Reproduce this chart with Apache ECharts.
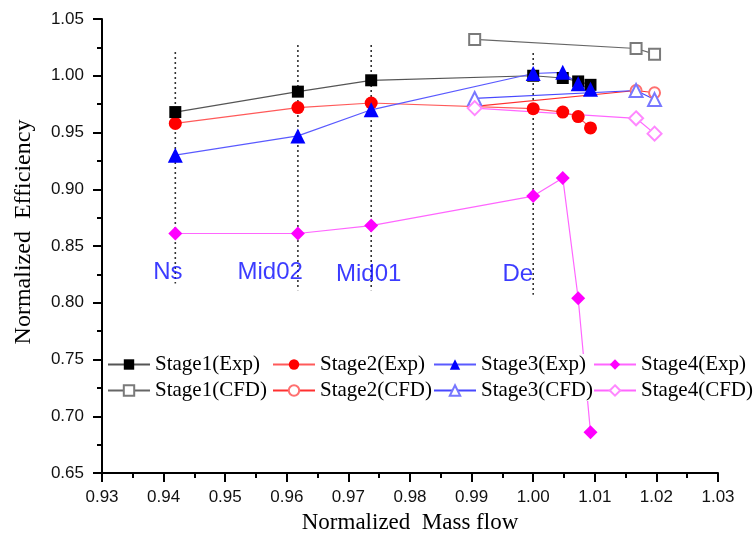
<!DOCTYPE html>
<html>
<head>
<meta charset="utf-8">
<script src="https://cdn.jsdelivr.net/npm/echarts/dist/echarts.min.js"></script>
<style>
  html, body { margin: 0; padding: 0; background: #fff; }
  #chart { width: 755px; height: 547px; }
</style>
</head>
<body>
<div id="chart"></div>
<script>
// Measurement stations (vertical dotted markers) and their tags
const stationNames = ['Ns', 'Mid02', 'Mid01', 'De'];
const stationFlow = [0.9419, 0.9618, 0.9737, 1.0000];
const stationTop = [1.021, 1.027, 1.027, 1.020];
const stationBottom = [0.817, 0.811, 0.811, 0.807];
const tagFlow = [0.9407, 0.9573, 0.9733, 0.9975];
const tagEff = [0.827, 0.827, 0.825, 0.825];

// Experimental results
const expFlow = [0.9419, 0.9618, 0.9737, 1.0000, 1.0048, 1.0073, 1.0093];
const stage1Exp = [0.968, 0.986, 0.996, 1.000, 0.998, 0.995, 0.992];
const stage2Exp = [0.958, 0.972, 0.976, 0.971, 0.968, 0.964, 0.954];
const stage3Exp = [0.930, 0.947, 0.970, 1.002, 1.003, 0.993, 0.988];
const stage4Exp = [0.861, 0.861, 0.868, 0.894, 0.910, 0.804, 0.686];

// CFD results
const cfdFlow = [0.9905, 1.0167, 1.0197];
const stage1Cfd = [1.032, 1.024, 1.019];
const stage2Cfd = [0.973, 0.987, 0.985];
const stage3Cfd = [0.980, 0.987, 0.979];
const stage4Cfd = [0.9715, 0.9625, 0.949];

const seriesNames = ['Stage1(Exp)', 'Stage1(CFD)', 'Stage2(Exp)', 'Stage2(CFD)',
                     'Stage3(Exp)', 'Stage3(CFD)', 'Stage4(Exp)', 'Stage4(CFD)'];

const pair = (xs, ys) => xs.map((x, i) => [x, ys[i]]);

function curve(name, xs, ys, symbol, size, markColor, lineColor, hollow) {
  return {
    name: name,
    type: 'line',
    data: pair(xs, ys),
    symbol: symbol,
    symbolSize: size,
    showAllSymbol: true,
    z: 3,
    lineStyle: { color: lineColor, width: 1.2 },
    itemStyle: hollow
      ? { color: markColor, borderColor: markColor, borderWidth: 1.6 }
      : { color: markColor, borderWidth: 0 },
    emphasis: { disabled: true }
  };
}

const stationSeries = stationFlow.map((x, i) => ({
  type: 'line',
  data: [[x, stationTop[i]], [x, stationBottom[i]]],
  symbol: 'none',
  z: 1,
  silent: true,
  lineStyle: { color: '#333', width: 1.6, type: [2, 3] }
}));

const tagSeries = {
  type: 'scatter',
  data: tagFlow.map((x, i) => ({ value: [x, tagEff[i]], name: stationNames[i] })),
  symbolSize: 0,
  silent: true,
  z: 2,
  label: {
    show: true,
    position: 'inside',
    formatter: p => p.name,
    fontFamily: 'Liberation Sans',
    fontSize: 24,
    color: '#0a0aff'
  }
};

const legendLeft = [107, 272, 433, 593];
const legends = legendLeft.map((left, i) => ({
  orient: 'vertical',
  left: left,
  top: 354,
  itemGap: 5,
  itemWidth: 42,
  itemHeight: 13,
  padding: [0, 2, 0, 0],
  backgroundColor: '#fff',
  selectedMode: false,
  data: [seriesNames[2 * i], seriesNames[2 * i + 1]],
  textStyle: { fontFamily: 'Liberation Serif', fontSize: 21, color: '#000' }
}));

const axisText = { fontFamily: 'Liberation Sans', fontSize: 17, color: '#111' };

const option = {
  animation: false,
  backgroundColor: '#fff',
  grid: { left: 102, right: 37, top: 19, bottom: 74 },
  legend: legends,
  xAxis: {
    type: 'value',
    min: 0.93,
    max: 1.03,
    interval: 0.01,
    name: 'Normalized  Mass flow',
    nameLocation: 'middle',
    nameGap: 38,
    nameTextStyle: { fontFamily: 'Liberation Serif', fontSize: 23, color: '#000' },
    axisLine: { onZero: false, lineStyle: { color: '#000', width: 2 } },
    axisTick: { inside: false, length: 9, lineStyle: { color: '#000', width: 2 } },
    minorTick: { show: true, splitNumber: 2, length: 5, lineStyle: { color: '#000', width: 2 } },
    splitLine: { show: false },
    axisLabel: Object.assign({ margin: 16, formatter: v => v.toFixed(2) }, axisText)
  },
  yAxis: {
    type: 'value',
    min: 0.65,
    max: 1.05,
    interval: 0.05,
    name: 'Normalized  Efficiency',
    nameLocation: 'middle',
    nameGap: 66,
    nameTextStyle: { fontFamily: 'Liberation Serif', fontSize: 24, color: '#000', padding: [0, 0, 0, 28] },
    axisLine: { onZero: false, lineStyle: { color: '#000', width: 2 } },
    axisTick: { inside: false, length: 9, lineStyle: { color: '#000', width: 2 } },
    minorTick: { show: true, splitNumber: 2, length: 5, lineStyle: { color: '#000', width: 2 } },
    splitLine: { show: false },
    axisLabel: Object.assign({ margin: 18, formatter: v => v.toFixed(2) }, axisText)
  },
  series: [
    ...stationSeries,
    tagSeries,
    curve('Stage2(CFD)', cfdFlow, stage2Cfd, 'emptyCircle', 11, '#ff7070', '#ff3030', true),
    curve('Stage1(CFD)', cfdFlow, stage1Cfd, 'emptyRect', 11, '#7a7a7a', '#666666', true),
    curve('Stage3(CFD)', cfdFlow, stage3Cfd, 'emptyTriangle', 13, '#7878ff', '#4848ff', true),
    curve('Stage4(CFD)', cfdFlow, stage4Cfd, 'emptyDiamond', 14, '#ff88ff', '#ff66ff', true),
    curve('Stage4(Exp)', expFlow, stage4Exp, 'diamond', 14, '#ff00ff', '#ff66ff', false),
    curve('Stage2(Exp)', expFlow, stage2Exp, 'circle', 13, '#ff0000', '#ff5a5a', false),
    curve('Stage1(Exp)', expFlow, stage1Exp, 'rect', 12, '#000000', '#555555', false),
    curve('Stage3(Exp)', expFlow, stage3Exp, 'triangle', 15, '#0000ff', '#5a5aff', false)
  ]
};

const chart = echarts.init(document.getElementById('chart'), null, { renderer: 'canvas' });
chart.setOption(option);
</script>
</body>
</html>
